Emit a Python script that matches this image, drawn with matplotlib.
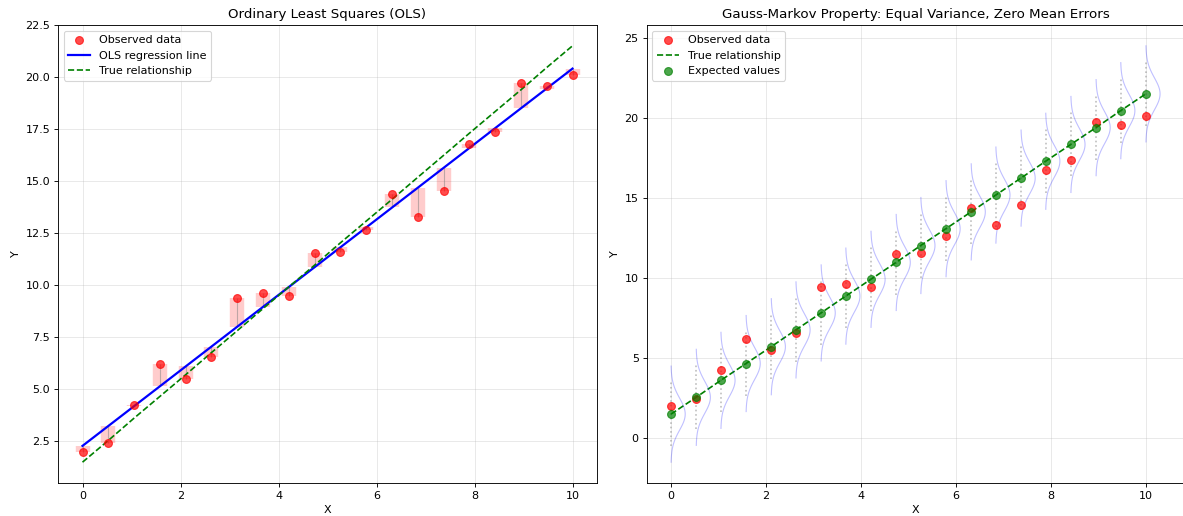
import numpy as np
import matplotlib
matplotlib.use("Agg")
import matplotlib.pyplot as plt

# Sample positions and measurements
x_vals = [0.00, 0.53, 1.05, 1.58, 2.11, 2.63, 3.16, 3.68, 4.21, 4.74,
          5.26, 5.79, 6.32, 6.84, 7.37, 7.89, 8.42, 8.95, 9.47, 10.00]
observed = [2.01, 2.42, 4.25, 6.20, 5.49, 6.55, 9.41, 9.65, 9.47, 11.53,
            11.59, 12.63, 14.38, 13.29, 14.53, 16.76, 17.34, 19.73, 19.55, 20.11]
# Points on the true line y = 1.5 + 2x
expected = [1.50, 2.55, 3.61, 4.66, 5.71, 6.76, 7.82, 8.87, 9.92, 10.97,
            12.03, 13.08, 14.13, 15.18, 16.24, 17.29, 18.34, 19.39, 20.45, 21.50]
error_sd = 1.0

x = np.array(x_vals)
y_obs = np.array(observed)
y_true = np.array(expected)

# OLS fit
slope, intercept = np.polyfit(x, y_obs, 1)
y_fit = intercept + slope * x

DPI = 80
fig = plt.figure(figsize=(1183 / DPI, 516 / DPI), dpi=DPI)
ax1 = fig.add_axes([58 / 1183, 33 / 516, 539 / 1183, 458 / 516])
ax2 = fig.add_axes([646.5 / 1183, 33 / 516, 538 / 1183, 458 / 516])

# --- left: OLS with residuals ---
ax1.vlines(x, y_fit, y_obs, color="red", alpha=0.2, linewidth=13)
ax1.vlines(x, y_fit, y_obs, color="gray", alpha=0.5, linewidth=1)
ax1.scatter(x, y_obs, color="red", alpha=0.7, s=50, label="Observed data", zorder=3)
ax1.plot(x, y_fit, color="blue", linewidth=2, label="OLS regression line")
ax1.plot(x, y_true, "g--", label="True relationship")
ax1.set_xlim(-0.5, 10.5)
ax1.set_title("Ordinary Least Squares (OLS)")
ax1.set_xlabel("X")
ax1.set_ylabel("Y")
ax1.legend(loc="upper left")
ax1.grid(True, alpha=0.3)

# --- right: error distributions around the true line ---
ax2.scatter(x, y_obs, color="red", alpha=0.7, s=50, label="Observed data", zorder=3)
ax2.plot(x, y_true, "g--", label="True relationship")
ax2.scatter(x, y_true, color="green", alpha=0.7, s=50, label="Expected values", zorder=3)
for xi, mu in zip(x, y_true):
    ys = np.linspace(mu - 3 * error_sd, mu + 3 * error_sd, 100)
    dens = np.exp(-0.5 * ((ys - mu) / error_sd) ** 2)
    ax2.plot(xi + 0.3 * dens, ys, color="blue", alpha=0.25, linewidth=1)
    ax2.plot([xi, xi], [mu - 2 * error_sd, mu + 2 * error_sd], ":", color="gray", alpha=0.5)
ax2.set_title("Gauss-Markov Property: Equal Variance, Zero Mean Errors")
ax2.set_xlabel("X")
ax2.set_ylabel("Y")
ax2.legend(loc="upper left")
ax2.grid(True, alpha=0.3)

fig.savefig("out.png", dpi=DPI)
